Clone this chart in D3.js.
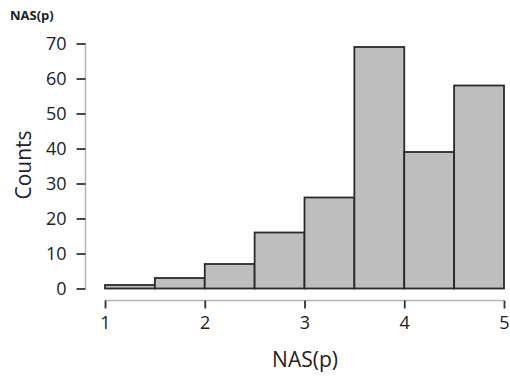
<!DOCTYPE html>
<html>
<head>
<meta charset="utf-8">
<script src="https://cdn.jsdelivr.net/npm/d3@7"></script>
<style>
  html, body { margin: 0; padding: 0; background: #fff; }
  svg { display: block; }
  text { font-family: "Open Sans", sans-serif; fill: #222; }
</style>
</head>
<body>
<svg id="chart" width="510" height="380"></svg>
<script>
// Histogram of NAS(p): bin edges and counts per bin
const binStarts = [1, 1.5, 2, 2.5, 3, 3.5, 4, 4.5];
const binWidth = 0.5;
const counts = [1, 3, 7, 16, 26, 69, 39, 58];
const xTicks = [1, 2, 3, 4, 5];
const yTicks = [0, 10, 20, 30, 40, 50, 60, 70];

const svg = d3.select("#chart");

const x = d3.scaleLinear().domain([1, 5]).range([105, 504]);
const y = d3.scaleLinear().domain([0, 70]).range([288.5, 43.5]);

// Bars
svg.append("g")
  .selectAll("rect")
  .data(counts)
  .join("rect")
  .attr("x", (d, i) => x(binStarts[i]))
  .attr("y", d => y(d))
  .attr("width", (d, i) => x(binStarts[i] + binWidth) - x(binStarts[i]))
  .attr("height", d => y(0) - y(d))
  .attr("fill", "#bebebe")
  .attr("stroke", "#2a2a2a")
  .attr("stroke-width", 1.8);

// Y axis (light spine, dark ticks)
const yAxis = svg.append("g")
  .attr("transform", "translate(85.5,0)")
  .call(d3.axisLeft(y).tickValues(yTicks).tickSize(9).tickPadding(10));
yAxis.select(".domain").attr("stroke", "#b5b5b5").attr("stroke-width", 1.5)
  .attr("d", `M0,${y(0)}V${y(70)}`);
yAxis.selectAll(".tick line").attr("stroke", "#333").attr("stroke-width", 1.8);
yAxis.selectAll(".tick text")
  .style("font-family", "'Open Sans', sans-serif")
  .style("font-size", "18px").attr("fill", "#222");

// X axis
const xAxis = svg.append("g")
  .attr("transform", "translate(0,300.5)")
  .call(d3.axisBottom(x).tickValues(xTicks).tickFormat(d3.format("d")).tickSize(8).tickPadding(8));
xAxis.select(".domain").attr("stroke", "#b5b5b5").attr("stroke-width", 1.5)
  .attr("d", `M${x(1)},0H${x(5)}`);
xAxis.selectAll(".tick line").attr("stroke", "#333").attr("stroke-width", 1.8);
xAxis.selectAll(".tick text")
  .style("font-family", "'Open Sans', sans-serif")
  .style("font-size", "18px").attr("fill", "#222");

// Axis titles
svg.append("text")
  .attr("x", 305).attr("y", 366.5)
  .attr("text-anchor", "middle")
  .style("font-size", "21px")
  .text("NAS(p)");

svg.append("text")
  .attr("transform", "translate(31,165) rotate(-90)")
  .attr("text-anchor", "middle")
  .style("font-size", "21px")
  .text("Counts");

// Panel title
svg.append("text")
  .attr("x", 10).attr("y", 20)
  .style("font-size", "13px")
  .style("font-weight", "bold")
  .text("NAS(p)");
</script>
</body>
</html>
